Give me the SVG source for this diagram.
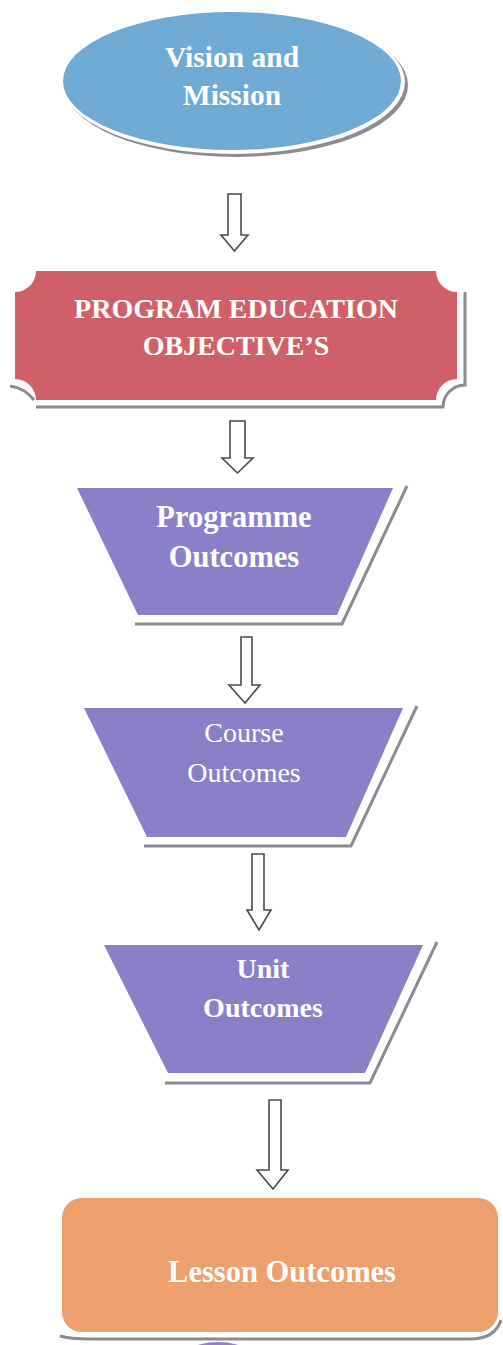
<svg xmlns="http://www.w3.org/2000/svg" width="503" height="1345" viewBox="0 0 503 1345">
<style>
.lbl{font-family:"Liberation Serif","Times New Roman",serif;fill:#ffffff;text-anchor:middle}
.b{font-weight:bold}
.shadow{fill:none;stroke:#8e8a92;stroke-width:3}
.gap{fill:#ffffff}
.arrow{fill:#ffffff;stroke:#4a4a4a;stroke-width:1.6;stroke-linejoin:miter}
.trap{fill:#8b80c8}
</style>
<rect width="503" height="1345" fill="#ffffff"/>

<g id="vision">
  <ellipse cx="236" cy="85" rx="172" ry="72" fill="#8e8a92"/>
  <ellipse cx="233" cy="82" rx="172" ry="72" class="gap"/>
  <ellipse cx="232" cy="81" rx="169" ry="69" fill="#6faad5"/>
  <text class="lbl b" x="232" y="67" font-size="29.5">Vision and</text>
  <text class="lbl b" x="232" y="105" font-size="29.5">Mission</text>
</g>

<g id="peo">
  <path class="shadow" d="M465 292 V385 A22 22 0 0 0 443 407 H36"/>
  <path class="shadow" d="M10 386 Q25 388 34 400"/>
  <path d="M36 271 H436 A21 21 0 0 0 457 292 V379 A21 21 0 0 0 436 400 H36 A21 21 0 0 0 15 379 V292 A21 21 0 0 0 36 271 Z" fill="#cf606a"/>
  <text class="lbl b" x="236" y="318" font-size="28">PROGRAM EDUCATION</text>
  <text class="lbl b" x="236" y="355" font-size="28">OBJECTIVE’S</text>
</g>

<g id="programme-outcomes">
  <polyline class="shadow" points="407,486 342,624 135,624"/>
  <polygon class="trap" points="77,488 393,488 337,615 138,615"/>
  <text class="lbl b" x="234" y="527" font-size="30.5">Programme</text>
  <text class="lbl b" x="234" y="567" font-size="30.5">Outcomes</text>
</g>

<g id="course-outcomes">
  <polyline class="shadow" points="417,706 351,846 144,846"/>
  <polygon class="trap" points="84,708 403,708 346,837 147,837"/>
  <text class="lbl" x="244" y="742" font-size="28">Course</text>
  <text class="lbl" x="244" y="782" font-size="28">Outcomes</text>
</g>

<g id="unit-outcomes">
  <polyline class="shadow" points="437,942 370,1083 165,1083"/>
  <polygon class="trap" points="104,945 423,945 365,1073 168,1073"/>
  <text class="lbl b" x="263" y="978" font-size="28">Unit</text>
  <text class="lbl b" x="263" y="1017" font-size="28">Outcomes</text>
</g>

<g id="lesson-outcomes">
  <ellipse cx="218" cy="1374" rx="48" ry="32" fill="#9a7fc8"/>
  <rect x="58" y="1194" width="446" height="146" rx="24" class="gap"/>
  <path class="shadow" d="M60 1336 Q70 1339 90 1339 H470 Q495 1339 501 1320"/>
  <rect x="62" y="1198" width="436" height="134" rx="20" fill="#eda06e"/>
  <text class="lbl b" x="282" y="1282" font-size="30.5">Lesson Outcomes</text>
</g>

<g id="connectors">
  <path class="arrow" d="M228 194 H241 V235 H248 L234.5 251 L221 235 H228 Z"/>
  <path class="arrow" d="M230 421 H245 V458 H253 L237.5 473 L222 458 H230 Z"/>
  <path class="arrow" d="M241 637 H252 V685 H260 L245 703 L229 685 H241 Z"/>
  <path class="arrow" d="M252 854 H264 V910 H271 L259 930 L247 910 H252 Z"/>
  <path class="arrow" d="M269 1100 H281 V1170 H288 L273 1189 L257 1170 H269 Z"/>
</g>
</svg>
